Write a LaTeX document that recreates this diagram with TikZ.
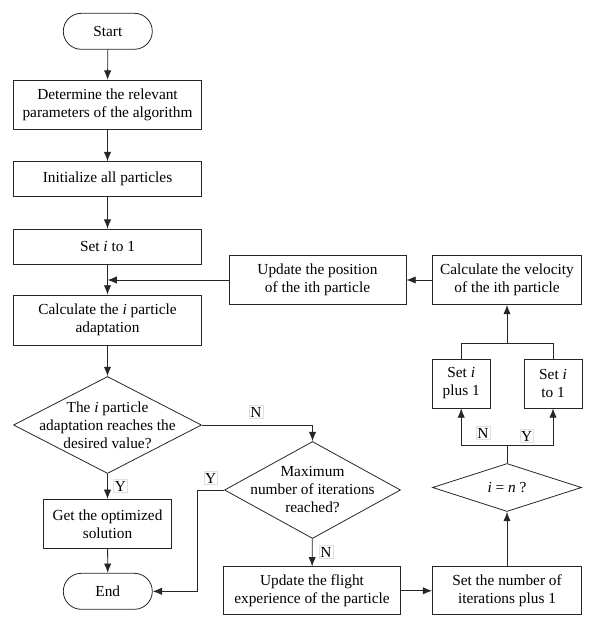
\documentclass[tikz,border=0pt]{standalone}
\usepackage{fontspec}
\setmainfont{Liberation Serif}
\usetikzlibrary{shapes.geometric,arrows.meta}

\begin{document}
\begin{tikzpicture}[x=0.75pt,y=-0.75pt,>={Latex[length=7pt,width=5.5pt]}]
\tikzset{
  base/.style={draw=black!85,line width=.6pt,align=center,inner sep=1pt,font=\fontsize{11.5}{13.5}\selectfont},
  term/.style={base,rounded corners=13.5pt,minimum width=66.75pt,minimum height=27pt},
  proc/.style={base,rectangle,minimum height=36.75pt},
  dec/.style={base,diamond,inner sep=0pt},
  yn/.style={draw=black!12,fill=white,inner sep=1pt,font=\fontsize{11.5}{13}\selectfont},
  arr/.style={->,draw=black!85,line width=.6pt},
  ln/.style={draw=black!85,line width=.6pt}
}
\useasboundingbox (0,0) rectangle (596,630);
% main column
\node[term] (start) at (107.8,31.3) {Start};
\node[proc,minimum width=141pt] (det) at (107.5,104.7) {Determine the relevant\\parameters of the algorithm};
\node[proc,minimum width=141pt,minimum height=26.25pt] (init) at (107.5,179.2) {Initialize all particles};
\node[proc,minimum width=141pt,minimum height=26.25pt] (seti) at (107.5,246.7) {Set \textit{i} to 1};
\node[proc,minimum width=141pt,minimum height=37.5pt] (calc) at (107.5,320) {Calculate the \textit{i} particle\\adaptation};
\node[dec,minimum width=141pt,minimum height=72.75pt,
  label={[base,draw=none]center:The \textit{i} particle\\adaptation reaches the\\desired value?}] (reach) at (107.5,425) {};
\node[proc,minimum width=96pt] (get) at (107.5,523.8) {Get the optimized\\solution};
\node[term] (end) at (107.8,591.3) {End};
% right part
\node[dec,minimum width=132pt,minimum height=72.75pt,
  label={[base,draw=none]center:Maximum\\number of iterations\\reached?}] (maxit) at (312.5,490) {};
\node[proc,minimum width=132.75pt,minimum height=36pt] (flight) at (312,590.8) {Update the flight\\experience of the particle};
\node[proc,minimum width=111.75pt,minimum height=36pt] (iter) at (507,590.8) {Set the number of\\iterations plus 1};
\node[dec,minimum width=111.75pt,minimum height=36pt,
  label={[base,draw=none]center:\textit{i} = \textit{n} ?}] (ien) at (507,487.5) {};
\node[proc,minimum width=43.5pt] (plus) at (461.2,383.5) {Set \textit{i}\\plus 1};
\node[proc,minimum width=43.5pt] (toone) at (553,383.5) {Set \textit{i}\\to 1};
\node[proc,minimum width=111.75pt] (vel) at (507,280) {Calculate the velocity\\of the ith particle};
\node[proc,minimum width=132.75pt] (pos) at (317.5,280) {Update the position\\of the ith particle};
\coordinate (ybend) at (197.3,490);
\coordinate (fork) at (507,445.7);
\coordinate (join) at (507,343);

\draw[arr] (start) -- (det);
\draw[arr] (det) -- (init);
\draw[arr] (init) -- (seti);
\draw[arr] (seti) -- (calc);
\draw[arr] (calc) -- (reach);
\draw[arr] (reach) -- (get);
\draw[arr] (get) -- (end);
\draw[arr] (reach.east) -| (maxit.north);
\draw[arr] (maxit.west) -- (ybend) |- (end.east);
\draw[arr] (maxit) -- (flight);
\draw[arr] (flight) -- (iter);
\draw[arr] (iter) -- (ien);
\draw[ln] (ien.north) -- (fork);
\draw[arr] (fork) -| (plus.south);
\draw[arr] (fork) -| (toone.south);
\draw[ln] (plus.north) |- (join);
\draw[ln] (toone.north) |- (join);
\draw[arr] (join) -- (vel);
\draw[arr] (vel) -- (pos);
\draw[arr] (pos.west) -- (pos.west -| calc.north);
% Y/N labels
\node[yn] (n1) at (256,412) {N};
\node[yn] (y1) at (120.5,486) {Y};
\node[yn] (y2) at (210.7,478) {Y};
\node[yn] (n2) at (326,552) {N};
\node[yn] (n3) at (483,433) {N};
\node[yn] (y3) at (526.7,436) {Y};
\end{tikzpicture}
\end{document}
